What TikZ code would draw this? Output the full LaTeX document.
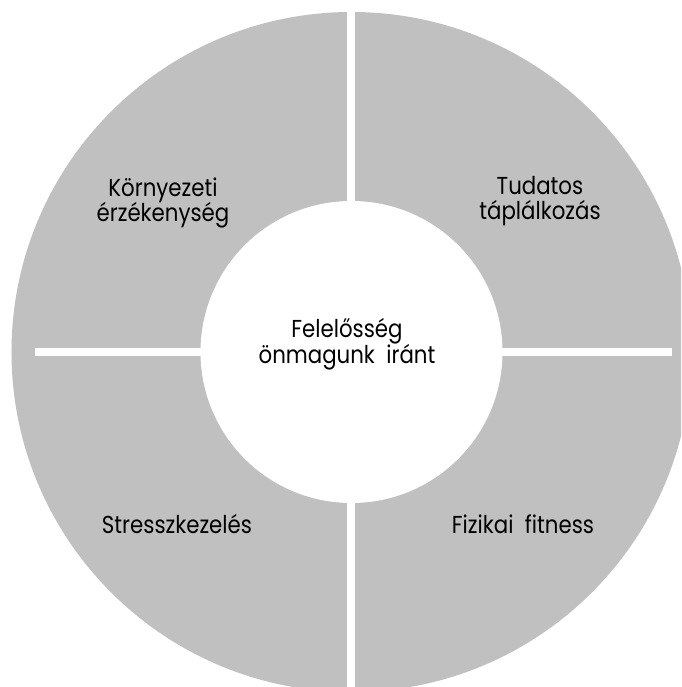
\documentclass[tikz,border=0pt]{standalone}
\usepackage{fontspec}
\setmainfont{Poppins}[FakeStretch=0.87]
\definecolor{segGray}{RGB}{192,192,192}
\begin{document}
\begin{tikzpicture}[x=1pt,y=1pt,
  lbl/.style={font=\fontsize{24.5}{25.5}\selectfont, align=center, text=black, inner sep=0pt, anchor=base}]
\useasboundingbox (-351.5,-335) rectangle (329.5,352);
\clip (-351.5,-335) rectangle (329.5,352);
\fill[white] (-351.5,-335) rectangle (329.5,352);
\fill[segGray] (0,0) circle (340);
\fill[white] (-4.5,-400) rectangle (3.5,400);
\fill[white] (-316,-4) rectangle (320.5,4);
\fill[white] (0,0) circle (151);
\node[lbl] (center) at (-4.5,-12) {Felelősség\\önmagunk\ \ iránt};
\node[lbl] (env) at (-188.5,130) {Környezeti\\érzékenység};
\node[lbl] (food) at (188.5,132) {Tudatos\\táplálkozás};
\node[lbl] (stress) at (-174.5,-181) {Stresszkezelés};
\node[lbl] (fit) at (171.5,-181) {Fizikai\ \ fitness};
\end{tikzpicture}
\end{document}
